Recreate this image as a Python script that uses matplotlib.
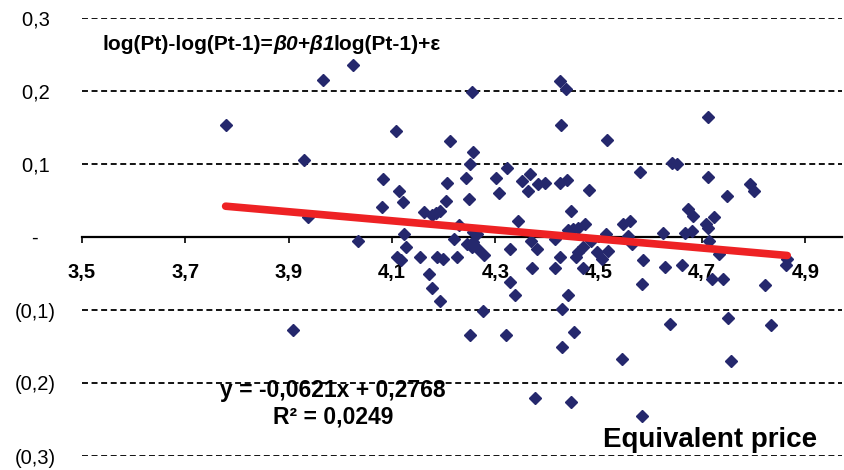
import numpy as np
import matplotlib.pyplot as plt

plt.rcParams['font.family'] = ['Liberation Sans', 'DejaVu Sans']

# log(P t-1) and log-return pairs
x_vals = [3.778, 3.908, 3.930, 3.938, 3.966, 4.024, 4.034, 4.082, 4.080, 4.107,
          4.113, 4.121, 4.123, 4.127, 4.110, 4.117, 4.154, 4.161, 4.171, 4.178,
          4.193, 4.177, 4.186, 4.193, 4.188, 4.199, 4.206, 4.204, 4.212, 4.220,
          4.225, 4.230, 4.246, 4.257, 4.254, 4.267, 4.279, 4.256, 4.265, 4.250,
          4.244, 4.251, 4.257, 4.254, 4.277, 4.251, 4.321, 4.301, 4.323, 4.307,
          4.344, 4.328, 4.328, 4.338, 4.351, 4.367, 4.364, 4.383, 4.370, 4.380,
          4.371, 4.376, 4.396, 4.425, 4.439, 4.482, 4.446, 4.415, 4.441, 4.451,
          4.460, 4.473, 4.425, 4.457, 4.460, 4.470, 4.415, 4.441, 4.430, 4.452,
          4.430, 4.447, 4.425, 4.437, 4.428, 4.485, 4.470, 4.496, 4.519, 4.515,
          4.506, 4.517, 4.545, 4.548, 4.561, 4.557, 4.564, 4.580, 4.586, 4.584,
          4.584, 4.624, 4.628, 4.638, 4.641, 4.651, 4.662, 4.667, 4.680, 4.673,
          4.683, 4.708, 4.712, 4.711, 4.712, 4.714, 4.724, 4.733, 4.720, 4.740,
          4.748, 4.751, 4.756, 4.793, 4.801, 4.822, 4.833, 4.865, 4.862]
y_vals = [0.153, -0.128, 0.105, 0.027, 0.215, 0.235, -0.006, 0.080, 0.041, 0.145,
          0.063, 0.048, 0.004, -0.014, -0.028, -0.032, -0.028, 0.034, -0.050, -0.070,
          -0.088, 0.030, 0.033, 0.036, -0.028, -0.030, 0.074, 0.050, 0.132, -0.003,
          -0.027, 0.017, -0.010, -0.007, -0.014, -0.016, -0.024, 0.007, 0.004, 0.052,
          0.081, 0.100, 0.117, 0.199, -0.102, -0.134, -0.134, 0.081, 0.094, 0.060,
          0.022, -0.016, -0.062, -0.080, 0.077, 0.086, 0.063, 0.072, -0.006, -0.016,
          -0.043, -0.220, 0.074, 0.074, 0.078, 0.065, 0.036, -0.003, 0.009, 0.011,
          0.013, 0.018, -0.028, -0.028, -0.021, -0.014, -0.042, -0.079, -0.099, -0.130,
          -0.151, -0.226, 0.214, 0.203, 0.154, -0.006, -0.043, -0.021, -0.019, 0.004,
          -0.030, 0.133, -0.167, 0.018, 0.022, 0.002, -0.010, 0.089, -0.031, -0.064,
          -0.245, 0.006, -0.041, -0.119, 0.101, 0.100, -0.038, 0.006, 0.008, 0.038,
          0.029, 0.018, 0.013, 0.164, 0.082, -0.005, 0.028, -0.023, -0.057, -0.058,
          0.056, -0.111, -0.170, 0.072, 0.063, -0.066, -0.121, -0.030, -0.039]

# trendline as printed on the chart
slope = -0.0621
intercept = 0.2768
r_squared = 0.0249

x_ticks = [3.5, 3.7, 3.9, 4.1, 4.3, 4.5, 4.7, 4.9]
x_tick_labels = ['3,5', '3,7', '3,9', '4,1', '4,3', '4,5', '4,7', '4,9']
y_ticks = [-0.3, -0.2, -0.1, 0.0, 0.1, 0.2, 0.3]
y_tick_labels = ['(0,3)', '(0,2)', '(0,1)', '-   ', '0,1 ', '0,2 ', '0,3 ']

fig = plt.figure(figsize=(8.45, 4.7), dpi=100)
ax = fig.add_axes([82 / 845, 14 / 470, 760 / 845, 438 / 470])

# dashed gridlines
for yv in y_ticks:
    if yv != 0:
        ax.axhline(yv, color='black', lw=1.3, dashes=(3.3, 2.0), zorder=1)

ax.plot(x_vals, y_vals, linestyle='none', marker='D', ms=6.6,
        color='#25286d', mec='#25286d', zorder=3)

tx = np.array([min(x_vals), max(x_vals)])
ax.plot(tx, slope * tx + intercept, color='#ee2224', lw=5.5,
        solid_capstyle='round', zorder=4)

ax.set_xlim(3.5, 4.971)
ax.set_ylim(-0.3, 0.3)

for s in ['top', 'right', 'left']:
    ax.spines[s].set_visible(False)
ax.spines['bottom'].set_position(('data', 0))
ax.spines['bottom'].set_linewidth(1.6)
ax.spines['bottom'].set_zorder(2)

ax.set_xticks(x_ticks)
ax.set_xticklabels(x_tick_labels, fontsize=14.5, fontweight='bold')
ax.tick_params(axis='x', direction='out', length=4, width=1.2, pad=15)
ax.set_yticks(y_ticks)
ax.set_yticklabels(y_tick_labels, fontsize=14.5)
ax.tick_params(axis='y', length=0, pad=19)

# model formula, with the coefficients in italics
a1 = fig.text(103 / 845, 1 - 45 / 470, 'log(Pt)-log(Pt-1)=', fontsize=15,
              fontweight='bold', va='center', ha='left')
a2 = ax.annotate('\u03b20+\u03b21', xy=(1, 0), xycoords=a1, va='bottom', ha='left',
                 fontsize=15, fontweight='bold', style='italic')
a3 = ax.annotate('log(Pt-1)+\u03b5', xy=(1, 0), xycoords=a2, xytext=(-1.5, 0),
                 textcoords='offset points', va='bottom', ha='left',
                 fontsize=15, fontweight='bold')

fig.text(333 / 845, 1 - 391 / 470, 'y = -0,0621x + 0,2768', fontsize=16.5,
         fontweight='bold', ha='center', va='center')
fig.text(333 / 845, 1 - 417 / 470, f'R\u00b2 = {r_squared:.4f}'.replace('.', ','),
         fontsize=16.5, fontweight='bold', ha='center', va='center')
fig.text(710 / 845, 1 - 440 / 470, 'Equivalent price', fontsize=20,
         fontweight='bold', ha='center', va='center')

fig.savefig('out.png', dpi=100)
